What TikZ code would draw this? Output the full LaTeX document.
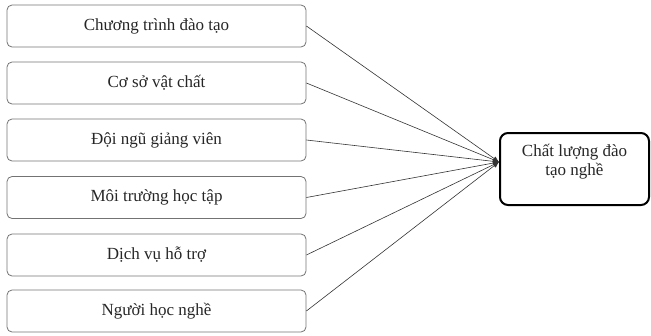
\documentclass[tikz,border=0pt]{standalone}
\usepackage{fontspec}
\setmainfont{Liberation Serif}
\usetikzlibrary{arrows.meta}
\begin{document}
\begin{tikzpicture}[x=1pt,y=-1pt,
  factor/.style={draw=black!55, line width=0.8pt, rounded corners=5pt, minimum width=299pt, minimum height=42pt, inner sep=0pt, font=\fontsize{17}{19}\selectfont, text=black!85},
  result/.style={draw=black, line width=2pt, rounded corners=8pt, minimum width=149pt, minimum height=72pt, inner sep=0pt, align=center, font=\fontsize{17}{19}\selectfont, text=black!85},
  link/.style={draw=black!80, line width=0.6pt, -{Latex[length=6pt,width=5pt]}}]
\useasboundingbox (0,0) rectangle (651,335);
\node[factor] (f1) at (156.5,26) {Chương trình đào tạo};
\node[factor] (f2) at (156.5,83) {Cơ sở vật chất};
\node[factor] (f3) at (156.5,140) {Đội ngũ giảng viên};
\node[factor] (f4) at (156.5,197.5) {Môi trường học tập};
\node[factor] (f5) at (156.5,255) {Dịch vụ hỗ trợ};
\node[factor] (f6) at (156.5,311) {Người học nghề};
\node[result] (out) at (574.5,169) {Chất lượng đào\\tạo nghề\\[-6pt]\strut};
\coordinate (hub) at ([yshift=7pt]out.west);
\foreach \i in {1,...,6} \draw[link] (f\i.east) -- (hub);
\end{tikzpicture}
\end{document}
